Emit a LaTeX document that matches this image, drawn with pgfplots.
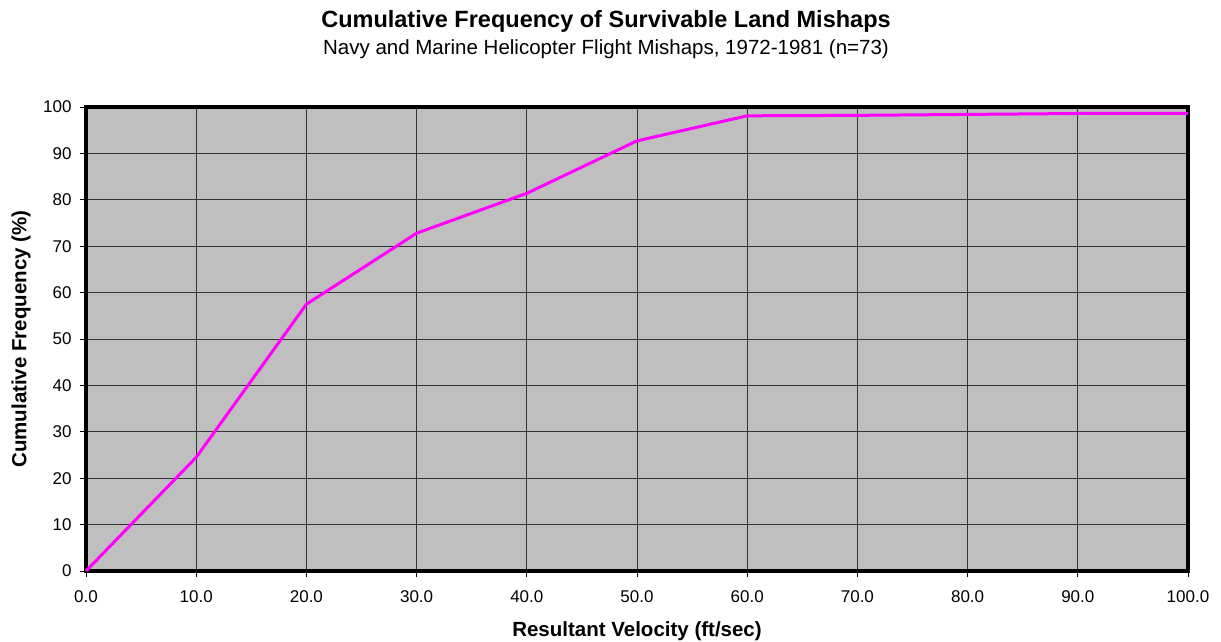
\documentclass[border=0pt]{standalone}
\usepackage{fontspec}
\setmainfont{Liberation Sans}
\usepackage{pgfplots}
\pgfplotsset{compat=1.18}

\begin{document}
\begin{tikzpicture}[x=1pt,y=1pt]
\path[use as bounding box] (-86,-70) rectangle (1135,571);
\begin{axis}[
    at={(0,0)}, anchor=south west,
    scale only axis,
    width=1102pt, height=464pt,
    xmin=0, xmax=100, ymin=0, ymax=100,
    xtick={0,10,...,100}, ytick={0,10,...,100},
    axis background/.style={fill=black!25},
    axis line style={line width=3.5pt, black},
    grid=major,
    major grid style={black!80, line width=0.8pt},
    tick style={black, line width=0.8pt},
    tick align=outside,
    major tick length=6pt,
    xtick pos=bottom, ytick pos=left,
    /pgf/number format/assume math mode=true,
    xticklabel style={/pgf/number format/.cd, fixed, fixed zerofill, precision=1},
    ticklabel style={font=\fontsize{17}{20}\selectfont},
    xticklabel shift=10pt, yticklabel shift=5pt,
    xlabel={\bfseries Resultant Velocity (ft/sec)},
    ylabel={\bfseries Cumulative Frequency (\%)},
    label style={font=\fontsize{20.5}{24}\selectfont},
    xlabel style={at={(axis description cs:0.5,-0.1293)}, anchor=center},
    ylabel style={at={(axis description cs:-0.059,0.5)}, anchor=center},
    clip=false,
]
\addplot[color={rgb,255:red,255;green,0;blue,255}, line width=3pt, line join=round] coordinates {
    (0,0) (10,24.5) (20,57.5) (30,72.8) (40,81.4) (50,92.7)
    (60,98.1) (70,98.2) (80,98.4) (90,98.6) (100,98.6)
};
\end{axis}
\node[font=\fontsize{23.5}{27}\selectfont\bfseries] at (520,550) {Cumulative Frequency of Survivable Land Mishaps};
\node[font=\fontsize{20.5}{24}\selectfont] at (520,522) {Navy and Marine Helicopter Flight Mishaps, 1972-1981 (n=73)};
\end{tikzpicture}
\end{document}
